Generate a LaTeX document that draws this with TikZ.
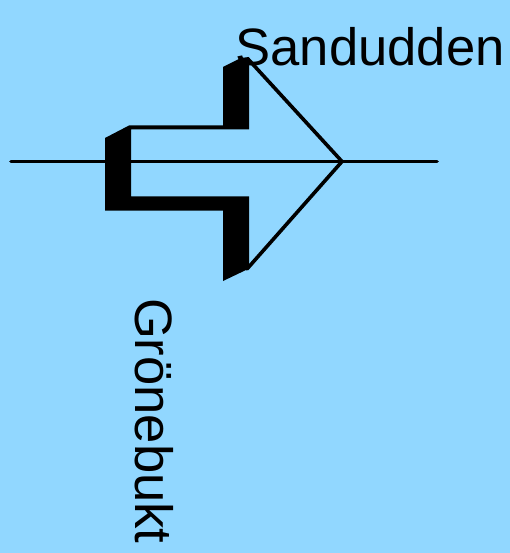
\documentclass[tikz,border=0pt]{standalone}
\usepackage{fontspec}
\setmainfont{Liberation Sans}
\definecolor{skyback}{HTML}{91D7FF}
\tikzset{
  lbl/.style={inner sep=0pt,outer sep=0pt,font=\fontsize{52.6}{53}\selectfont,text=black},
  ln/.style={draw=black,line width=3.6pt,line cap=round,line join=miter}
}
\begin{document}
\begin{tikzpicture}[x=1pt,y=-1pt]
\useasboundingbox (0,0) rectangle (510,553);
\fill[skyback] (0,0) rectangle (510,553);
\coordinate (w) at (11,161.5);
\coordinate (e) at (437,161.5);
\coordinate (tip) at (342,161.5);
\coordinate (ut) at (248,59);
\coordinate (lt) at (247,269);
\fill[black] (105,138) -- (129,125.5) -- (223,125.5) -- (223,67) -- (241,58) -- (249,57)
  -- (249,129.5) -- (131,129.5) -- (131,196.5) -- (249,196.5) -- (249,269) -- (246,270) -- (223,281)
  -- (223,210.5) -- (105,210.5) -- cycle;
\draw[ln] (w) -- (e);
\draw[ln] (ut) -- (tip) -- (lt);
\node[lbl,anchor=base west] (sand) at (235.5,66) {Sandudden};
\node[lbl,anchor=base west,rotate=-90] (gron) at (135,298) {Grönebukt};
\end{tikzpicture}
\end{document}
